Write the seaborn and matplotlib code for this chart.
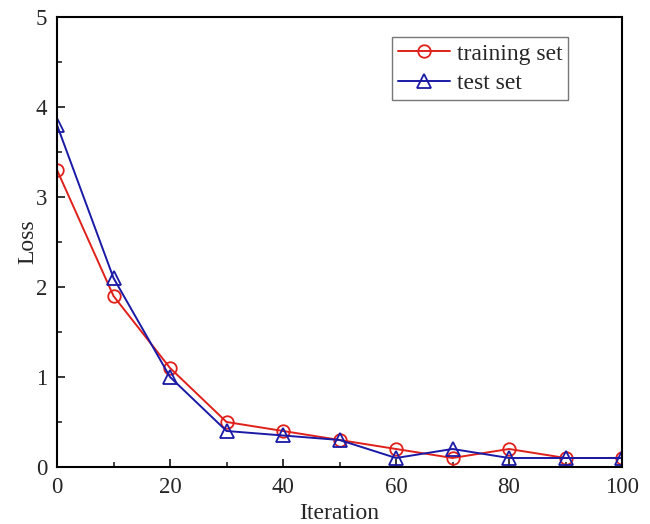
import numpy as np
import pandas as pd
import matplotlib
matplotlib.use('Agg')
import matplotlib.pyplot as plt
import seaborn as sns
from matplotlib.ticker import MultipleLocator

# values
iteration = [0, 10, 20, 30, 40, 50, 60, 70, 80, 90, 100]
train_loss = [3.3, 1.9, 1.1, 0.5, 0.4, 0.3, 0.2, 0.1, 0.2, 0.1, 0.1]
test_loss = [3.8, 2.1, 1.0, 0.4, 0.35, 0.3, 0.1, 0.2, 0.1, 0.1, 0.1]

sns.set_style('ticks')
plt.rcParams['font.family'] = ['Liberation Serif', 'DejaVu Serif']

fig = plt.figure(figsize=(6.5, 5.24), dpi=100)
ax = fig.add_axes([0.0877, 0.1088, 0.8693, 0.8588])

sns.lineplot(x=iteration, y=train_loss, ax=ax, color='#e0201b', marker='o',
             markersize=9, markerfacecolor='none', markeredgecolor='#e0201b',
             markeredgewidth=1.3, linewidth=1.4, label='training set')
sns.lineplot(x=iteration, y=test_loss, ax=ax, color='#1a1aa6', marker='^',
             markersize=10, markerfacecolor='none', markeredgecolor='#1a1aa6',
             markeredgewidth=1.3, linewidth=1.4, label='test set')

ax.set_xlim(0, 100)
ax.set_ylim(0, 5)
ax.xaxis.set_major_locator(MultipleLocator(20))
ax.xaxis.set_minor_locator(MultipleLocator(10))
ax.yaxis.set_major_locator(MultipleLocator(1))
ax.yaxis.set_minor_locator(MultipleLocator(0.5))
ax.tick_params(which='major', direction='in', length=6, width=1.3, labelsize=16.5,
               top=False, right=False, pad=7)
ax.tick_params(which='minor', direction='in', length=3.5, width=1.2,
               top=False, right=False)
for s in ax.spines.values():
    s.set_visible(True)
    s.set_linewidth(1.5)
    s.set_color('black')

ax.set_xlabel('Iteration', fontsize=17, labelpad=4)
ax.set_ylabel('Loss', fontsize=17, labelpad=-2)

leg = ax.legend(loc='upper right', bbox_to_anchor=(0.905, 0.955), fontsize=17,
                frameon=True, fancybox=False, edgecolor='#555555',
                handlelength=2.2, borderpad=0.25, labelspacing=0.35, handletextpad=0.3,
                borderaxespad=0)
leg.get_frame().set_linewidth(1.0)

fig.savefig('out.png', dpi=100)
